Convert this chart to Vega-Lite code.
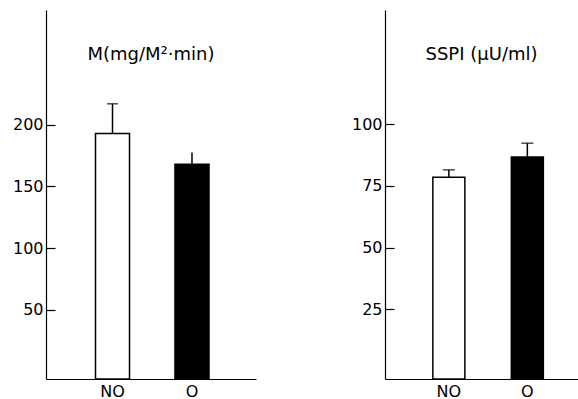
{
  "$schema": "https://vega.github.io/schema/vega-lite/v6.json",
  "autosize": {"type": "pad"},
  "padding": {"left": 12, "top": 10, "right": 0, "bottom": 0},
  "background": "white",
  "bounds": "flush",
  "spacing": 129,
  "datasets": {
    "m": [
      {"group": "NO", "value": 193, "errTop": 217, "capped": true},
      {"group": "O", "value": 168, "errTop": 177.5, "capped": false}
    ],
    "sspi": [
      {"group": "NO", "value": 78.5, "errTop": 81.5, "capped": true},
      {"group": "O", "value": 86.7, "errTop": 92.3, "capped": true}
    ]
  },
  "config": {
    "view": {"stroke": null},
    "font": "DejaVu Sans",
    "axis": {"domainColor": "black", "domainWidth": 1.2, "tickColor": "black", "tickWidth": 1.2, "labelColor": "black", "labelFont": "DejaVu Sans", "labelFontSize": 16, "grid": false, "title": null}
  },
  "hconcat": [
    {
      "width": 210,
      "height": 369,
      "data": {"name": "m"},
      "title": {"text": "M(mg/M²·min)", "orient": "top", "anchor": "middle", "offset": -68, "baseline": "alphabetic", "fontSize": 18, "fontWeight": "normal", "font": "DejaVu Sans", "color": "black"},
      "encoding": {
        "x": {"field": "group", "type": "nominal", "sort": ["NO", "O"], "scale": {"paddingInner": 0.572, "paddingOuter": 0.607, "align": 0.513, "round": false}, "axis": {"labelAngle": 0, "ticks": false, "labelPadding": 4, "labelFontSize": 16, "title": null}}
      },
      "layer": [
        {
          "mark": {"type": "bar", "stroke": "black", "strokeWidth": 1.5},
          "encoding": {
            "y": {"field": "value", "type": "quantitative", "scale": {"domain": [-6, 293], "nice": false, "zero": false}, "axis": {"values": [50, 100, 150, 200], "tickSize": -9, "labelPadding": 12, "title": null}},
            "y2": {"datum": -6},
            "fill": {"field": "group", "type": "nominal", "scale": {"domain": ["NO", "O"], "range": ["white", "black"]}, "legend": null}
          }
        },
        {
          "mark": {"type": "rule", "strokeWidth": 1.5, "color": "black"},
          "encoding": {"y": {"field": "value", "type": "quantitative"}, "y2": {"field": "errTop"}}
        },
        {
          "transform": [{"filter": "datum.capped"}],
          "mark": {"type": "tick", "size": 11, "thickness": 1.5, "color": "black"},
          "encoding": {"y": {"field": "errTop", "type": "quantitative"}}
        }
      ]
    },
    {
      "width": 193,
      "height": 369,
      "data": {"name": "sspi"},
      "title": {"text": "SSPI (μU/ml)", "orient": "top", "anchor": "middle", "offset": -68, "baseline": "alphabetic", "fontSize": 18, "fontWeight": "normal", "font": "DejaVu Sans", "color": "black"},
      "encoding": {
        "x": {"field": "group", "type": "nominal", "sort": ["NO", "O"], "scale": {"paddingInner": 0.592, "paddingOuter": 0.5255, "align": 0.58, "round": false}, "axis": {"labelAngle": 0, "ticks": false, "labelPadding": 4, "labelFontSize": 16, "title": null}}
      },
      "layer": [
        {
          "mark": {"type": "bar", "stroke": "black", "strokeWidth": 1.5},
          "encoding": {
            "y": {"field": "value", "type": "quantitative", "scale": {"domain": [-3.3, 146.3], "nice": false, "zero": false}, "axis": {"values": [25, 50, 75, 100], "tickSize": -9, "labelPadding": 12, "title": null}},
            "y2": {"datum": -3.3},
            "fill": {"field": "group", "type": "nominal", "scale": {"domain": ["NO", "O"], "range": ["white", "black"]}, "legend": null}
          }
        },
        {
          "mark": {"type": "rule", "strokeWidth": 1.5, "color": "black"},
          "encoding": {"y": {"field": "value", "type": "quantitative"}, "y2": {"field": "errTop"}}
        },
        {
          "transform": [{"filter": "datum.capped"}],
          "mark": {"type": "tick", "size": 12, "thickness": 1.5, "color": "black"},
          "encoding": {"y": {"field": "errTop", "type": "quantitative"}}
        }
      ]
    }
  ]
}
